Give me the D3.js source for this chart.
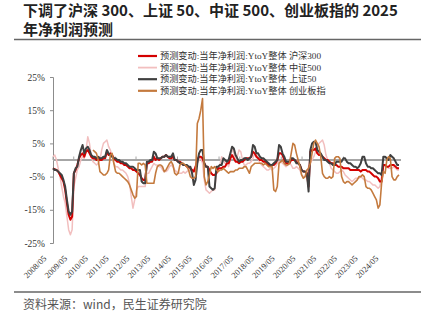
<!DOCTYPE html>
<html><head><meta charset="utf-8">
<script src="https://cdn.jsdelivr.net/npm/d3@7"></script>
<style>
html,body{margin:0;padding:0;background:#fff;}
svg{display:block;}
</style>
</head><body>
<svg id="c" width="425" height="333"></svg>
<script>
// ---- data ----
const titleLines = ["下调了沪深 300、上证 50、中证 500、创业板指的 2025", "年净利润预测"];
const source = "资料来源：wind，民生证券研究院";
const seriesNames = [
  "预测变动:当年净利润:YtoY整体 沪深300",
  "预测变动:当年净利润:YtoY整体 中证500",
  "预测变动:当年净利润:YtoY整体 上证50",
  "预测变动:当年净利润:YtoY整体 创业板指"
];
const startDate = "2008-05-01";
const endDate = "2025-01-01";
const yTicks = [-25, -15, -5, 5, 15, 25];
const xTickLabels = ["2008/05","2009/05","2010/05","2011/05","2012/05","2013/05","2014/05","2015/05","2016/05","2017/05","2018/05","2019/05","2020/05","2021/05","2022/05","2023/05","2024/05"];

const hs300 = [
-2.5,-2.8,-3,-3.5,-4.5,-5.5,-6.5,-9,-13,-16.5,
-18,-17,-4,-3,-1.5,0.5,1.5,2,1,2.5,
3,2,1,0.5,0.5,0,0.5,0,0,0.5,
0.5,2.5,1.5,2,1.5,0.5,0,-0.5,-0.5,-1,
-1,-1.5,-1.5,-2,-2.5,-2.5,-3,-3,-3.5,-4,
-4.5,-5.5,-6,-6,-1,-1,-0.5,-0.5,1,0,
0.5,0,0.5,1,1,1.5,1,0.5,0.5,1,
0,0,-0.5,-0.5,-1,-1.5,-1.5,-2,-2,-2.5,
-3,-3.5,-2,0,1,1,0.5,-1,-2,-2,
-3,-4,-4.5,-4.5,-4,-2.5,-2.5,-2.5,-2,-2,
-1,-1,0.5,1.5,0.5,-0.5,-0.5,-1,-0.5,-0.5,
0,0.5,0.5,0.5,1,2.5,2,1,0.5,0,
0,-0.5,-0.5,-1,-1.5,-1.5,-1.5,-1.5,-1,0,
2,2,1.5,0,-1,-1,-1,0,0,0,
-0.5,-1,-1.5,-3,-3.5,-3.5,-4,-8,2.5,3,
3,3.5,2,1.5,1.5,1,0.5,0,0,-0.5,
-1,-1,-1.5,-1.5,-2,-2,-2,-2.5,-2.5,-2.5,
-2.5,-3,-3,-3,-3,-3,-3,-3.5,-3,-3,
-3,-3.5,-3.5,-4,-4.5,-5,-5,-5.5,-6.5,-6.5,
-1.5,-1.5,-2,-2,-1.5,-1.5,-1.5,-2,-2.5,-2.5
];
const csi500 = [
1,1.5,0,-2.5,-5,-8,-11,-13,-17,-21,
-22.5,-21,-8,-5.5,-3,-2,0,1,0.5,3,
7,5,1,-0.5,-1,-1.5,-1,0,3,5,
5.5,6,4,3,1,-1,-2,-2,-2.5,-3,
-3,-3.5,-4,-5,-7,-11,-14.5,-12,-9,-8,
-8,-8,-8,-8,-4,-4,-3,-2,-1,-1.5,
-1.5,-2,-2,-3,-3.5,-3.5,-3,-2,-1.5,-2,
-3,-3.5,-4,-4,-4,-3.5,-4,-3.5,-3,-3,
-3,-3,-2,-1,0,0.5,-1,-6,-9,-9.5,
-10,-9.5,-9,-9,-4,-2,-1.5,1,0,-1,
-1,-2,0,3.5,2,0,1,3,2.5,0,
-1.5,-1.5,-1,-1,-0.5,0.5,2,2,0.5,-1,
-1.5,-2,-2.5,-3,-3,-2.5,-3,-2.5,-2,-1,
-0.5,-0.5,-1,-1.5,-2,-1.5,-1,-1.5,-2.5,-2.5,
-2,-2.5,-3,-4.5,-5,-5,-4.5,-2,-1,0,
1,2.5,4,5,5.5,6,4.5,1.5,0,-1,
-2.5,-3,-3.5,-4,-4,-3.5,-3,-3.5,-4.5,-5,
-5.5,-6,-6.5,-6,-5.5,-5.5,-5.5,-5,-5.5,-6,
-6,-6.5,-6.5,-7,-7.5,-7.5,-8,-8.5,-8,-5,
-2,-1.5,-2,-2.5,-2.5,-2.5,-2,-2.5,-3,-3
];
const sse50 = [
-2.5,-3,-3,-3.5,-4,-4.5,-6,-8,-12,-15.5,
-16.5,-15.5,-4,-2.5,-2,1,3,4.5,2,3.5,
4,3,1.5,1,1,0.5,1,0.5,0.5,1,
1,3,2,1.5,1,0.5,0.5,0,0,-0.5,
-0.5,-1,-1,-1.5,-2,-2,-2,-2.5,-3,-3,
-3,-6.5,-7,-7,-0.5,-0.5,0,0,2.5,2,
0.5,0.5,0.5,1,1,1.5,1,1,1,2,
0,0,-0.5,-1,-1,-1.5,-1.5,-1.5,-2,-2,
-4,-7.5,-6,-1,2,3,3,-1,-2,-2,
-8,-8.5,-9,-8.5,-2,-2,-1.5,-1.5,0.5,0,
-0.5,0,2,4,3.5,1.5,0.5,-0.5,0,0,
0.5,0.5,0,0.5,1,4.5,4,2,2,1,
0.5,0.5,0,-0.5,-1,-1.5,-1.5,-1,-0.5,0,
4.5,4,2,1,-0.5,-0.5,-0.5,0.5,0.5,0,
-1,-1,-1.5,-3,-3.5,-3.5,-4,-9.5,3,5,
5.5,5.5,3,2.5,2,1,0,0,-0.5,-1,
-1,-1.5,-1.5,-0.5,-0.5,-0.5,-0.5,0.5,0.5,-0.5,
-1,-1,-1.5,-2,-2,-2.5,-2,-1,1,1,
-1,-2,-2,-2.5,-2.5,-3,-3.5,-4,-4,-4.5,
1,1,0.5,0,1.5,1,0.5,-0.5,-1.5,-1.5
];
const chinext = [
null,null,null,null,null,null,null,null,null,null,
null,null,null,null,null,null,null,null,null,null,
null,null,null,3,2.5,2,0,-3.5,-4,-4.5,
-4.5,-4,-3,1.5,2,-1,-3.5,-4,-4,-4.5,
-5,-5.5,-6,-6.5,-7.5,-9,-10.5,-11.5,-11,-1,
-1,-1.5,-1,-1.5,-7,-7,-7,-7,-7,-4,
-2,-1.5,-1.5,-2,-3.5,-3,-2,-1,-0.5,-1.5,
-4,-4.5,-4,-1.5,-1,-1,-1.5,-2,-3,-5,
-5.5,-5.5,-5,11,12.5,15,18.5,-5,-7.5,-6.5,
-4.5,-2,-2.5,-2,-3,-3.5,-3,-3,-2.5,-3,
-3.5,-4,-3.5,-3.5,-3.5,-3,-3,-2.5,-2.5,-2.5,
-2,-2,-3,-4,-2,-1.5,-1,-1,-1,-1,
-1,-1.5,-1,-1.5,-2,-2,-2,-9,-9.5,-8,
-1,-0.5,0,-1,-1.5,-1.5,-1,2,5,4.5,
2,0,-2,-4.5,-5.5,-5,-3,-2.5,-1,2,
5,6,5,4,1,-4,-5,-5.5,-5.5,-5,
-5.5,-5,0.5,1,1,0.5,-5,-6.5,-7,-6.5,
-6.5,-7,-7.5,-7,-6.5,-6,-5,-5,-4.5,-5,
-8,-8.5,-8.5,-9,-10,-11,-12,-14.5,-13.5,-7,
-3.5,-4,0,1,0.5,-5,-6,-6,-5,-4.5
];

// ---- drawing ----
const svg = d3.select("#c");
const t0 = new Date(startDate + "T00:00:00"), t1 = new Date(endDate + "T00:00:00");
const n = hs300.length;
const dates = hs300.map((_, i) => new Date(t0.getTime() + i * (t1 - t0) / (n - 1)));

const x = d3.scaleTime().domain([t0, t1]).range([53, 399]);
const y = d3.scaleLinear().domain([-25, 25]).range([243, 77]);

const serifCJK = "'Liberation Serif','Noto Sans CJK SC',serif";
const sansCJK = "'Noto Sans CJK SC','Noto Sans',sans-serif";

// title
svg.selectAll("text.title").data(titleLines).join("text")
  .attr("class", "title")
  .attr("x", 23).attr("y", (d, i) => 15.5 + i * 19)
  .attr("font-family", sansCJK).attr("font-weight", "bold")
  .attr("font-size", 15).attr("fill", "#222")
  .text(d => d);
svg.append("line").attr("x1", 14).attr("x2", 421).attr("y1", 39.5).attr("y2", 39.5)
  .attr("stroke", "#666").attr("stroke-width", 1.5);

// y axis
const yAxis = d3.axisLeft(y).tickValues(yTicks).tickSize(3).tickFormat(d => d + "%");
const gy = svg.append("g").attr("transform", "translate(53,0)").call(yAxis);
gy.select(".domain").attr("stroke", "#8c8c8c");
gy.selectAll(".tick line").attr("stroke", "#8c8c8c");
gy.selectAll(".tick text").attr("font-family", serifCJK).attr("font-size", 9.5).attr("fill", "#333").attr("x", -8);

// zero line with year ticks
const tickDates = xTickLabels.map(s => new Date(+s.slice(0, 4), +s.slice(5) - 1, 1));
svg.append("line").attr("x1", 53).attr("x2", 401).attr("y1", y(0)).attr("y2", y(0))
  .attr("stroke", "#a6a6a6").attr("stroke-width", 2);
svg.selectAll("line.xt").data(tickDates).join("line").attr("class", "xt")
  .attr("x1", d => x(d)).attr("x2", d => x(d)).attr("y1", y(0)).attr("y2", y(0) - 3.5)
  .attr("stroke", "#a6a6a6").attr("stroke-width", 1);

// x labels
svg.selectAll("text.xl").data(xTickLabels).join("text").attr("class", "xl")
  .attr("transform", (d, i) => `translate(${x(tickDates[i]) - 6},259) rotate(-45)`)
  .attr("text-anchor", "end")
  .attr("font-family", serifCJK).attr("font-size", 8.5).attr("fill", "#333")
  .text(d => d);

// lines
const colors = ["#d40000", "#f2bfbf", "#404040", "#c47a3e"];
const widths = [2, 1.5, 2, 1.6];
const allSeries = [hs300, csi500, sse50, chinext];
const line = d3.line().defined(d => d[1] != null).x(d => x(d[0])).y(d => y(d[1]));
const drawOrder = [1, 0, 2, 3];
drawOrder.forEach(k => {
  svg.append("path")
    .datum(allSeries[k].map((v, i) => [dates[i], v]))
    .attr("fill", "none").attr("stroke", colors[k]).attr("stroke-width", widths[k])
    .attr("stroke-linejoin", "round")
    .attr("d", line);
});

// legend
const lg = svg.append("g");
seriesNames.forEach((name, i) => {
  const yy = 56 + i * 11.6;
  lg.append("line").attr("x1", 138).attr("x2", 157).attr("y1", yy).attr("y2", yy)
    .attr("stroke", colors[i]).attr("stroke-width", i === 1 ? 1.8 : 2.2);
  lg.append("text").attr("x", 160).attr("y", yy).attr("dy", "0.35em")
    .attr("font-family", serifCJK).attr("font-size", 9.2).attr("fill", "#333")
    .text(name);
});

// footer
svg.append("line").attr("x1", 14).attr("x2", 421).attr("y1", 292).attr("y2", 292)
  .attr("stroke", "#666").attr("stroke-width", 1.5);
svg.append("text").attr("x", 23).attr("y", 309)
  .attr("font-family", sansCJK).attr("font-size", 12).attr("fill", "#555")
  .text(source);
</script>
</body></html>
